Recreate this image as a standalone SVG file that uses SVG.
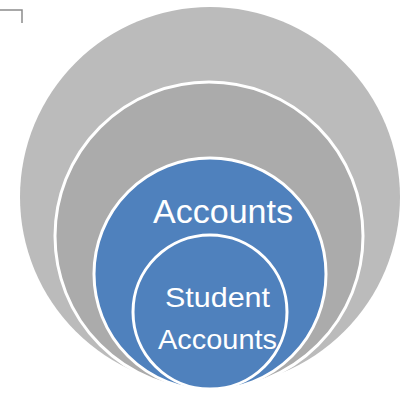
<svg xmlns="http://www.w3.org/2000/svg" width="402" height="393" viewBox="0 0 402 393">
<style>
.ring{stroke:#FFFFFF;stroke-width:3}
.lbl{font-family:"Liberation Sans",Arial,sans-serif;fill:#FFFFFF;text-anchor:middle}
</style>
<rect width="402" height="393" fill="#FFFFFF"/>
<g id="corner-mark">
<polyline points="0,10 22,10 22,23" fill="none" stroke="#8C8C8C" stroke-width="1.5"/>
</g>
<g id="connectors"></g>
<g id="outer-ring">
<circle cx="210" cy="197" r="190" fill="#BBBBBB"/>
</g>
<g id="middle-ring">
<circle cx="209" cy="236" r="154" fill="#ABABAB" class="ring"/>
</g>
<g id="accounts">
<circle cx="210" cy="274" r="116" fill="#4F81BD" class="ring"/>
<text x="223" y="223" font-size="33" class="lbl" textLength="140" lengthAdjust="spacingAndGlyphs">Accounts</text>
</g>
<g id="student-accounts">
<circle cx="210" cy="312" r="77" fill="#4F81BD" class="ring"/>
<text x="217.5" y="307" font-size="28" class="lbl" textLength="105" lengthAdjust="spacingAndGlyphs">Student</text>
<text x="217.5" y="349" font-size="28" class="lbl" textLength="119" lengthAdjust="spacingAndGlyphs">Accounts</text>
</g>
</svg>
